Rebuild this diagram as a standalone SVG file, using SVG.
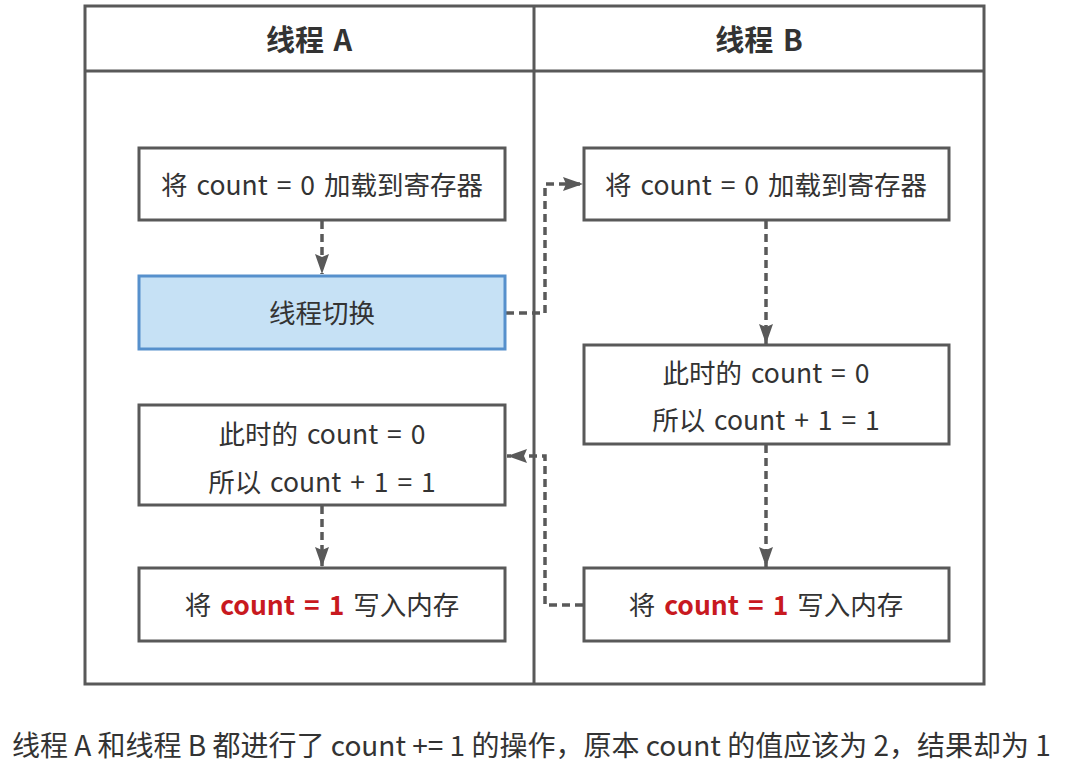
<svg xmlns="http://www.w3.org/2000/svg" width="1068" height="783" viewBox="0 0 1068 783">
<style>
text{font-family:"Noto Sans CJK SC","Microsoft YaHei",sans-serif;fill:#333;font-size:26.5px;text-anchor:middle;dominant-baseline:central;word-spacing:3px}
.hd{font-weight:bold;font-size:29px}
.box{fill:#fff;stroke:#595959;stroke-width:3}
.blue{fill:#c6e1f5;stroke:#5690cc;stroke-width:3}
.frame{fill:none;stroke:#595959;stroke-width:3}
.red{fill:#c8191f;font-weight:bold}
.con{fill:none;stroke:#595959;stroke-width:3.5;stroke-dasharray:8 5}
</style>
<defs>
<marker id="ah" markerWidth="20" markerHeight="14" refX="20" refY="7" orient="auto" markerUnits="userSpaceOnUse">
<path d="M0,0 L20,7 L0,14 L3,7 Z" fill="#595959"/>
</marker>
</defs>
<rect width="1068" height="783" fill="#fff"/>
<g id="frame">
<rect class="frame" x="85" y="6" width="899" height="678"/>
<line class="frame" x1="85" y1="71" x2="984" y2="71"/>
<line class="frame" x1="534" y1="6" x2="534" y2="684"/>
<text class="hd" x="309" y="38">线程 A</text>
<text class="hd" x="759" y="38">线程 B</text>
</g>
<g id="connectors">
<line class="con" x1="322" y1="221" x2="322" y2="274" marker-end="url(#ah)"/>
<polyline class="con" points="506,313 545,313 545,184 583,184" marker-end="url(#ah)"/>
<line class="con" x1="766" y1="221" x2="766" y2="344" marker-end="url(#ah)"/>
<line class="con" x1="766" y1="445" x2="766" y2="567" marker-end="url(#ah)"/>
<polyline class="con" points="583,605 545,605 545,456 507,456" marker-end="url(#ah)"/>
<line class="con" x1="322" y1="506" x2="322" y2="567" marker-end="url(#ah)"/>
</g>
<g id="a1"><rect class="box" x="139" y="148" width="366" height="72"/><text x="322" y="183">将 count = 0 加载到寄存器</text></g>
<g id="a2"><rect class="blue" x="139" y="276" width="366" height="73"/><text x="322" y="311">线程切换</text></g>
<g id="a3"><rect class="box" x="139" y="405" width="366" height="100"/><text x="322" y="432">此时的 count = 0</text><text x="322" y="480">所以 count + 1 = 1</text></g>
<g id="a4"><rect class="box" x="139" y="568" width="366" height="73"/><text x="322" y="603">将 <tspan class="red">count = 1</tspan> 写入内存</text></g>
<g id="b1"><rect class="box" x="584" y="148" width="365" height="72"/><text x="766" y="183">将 count = 0 加载到寄存器</text></g>
<g id="b2"><rect class="box" x="584" y="345" width="365" height="99"/><text x="766" y="371">此时的 count = 0</text><text x="766" y="418">所以 count + 1 = 1</text></g>
<g id="b3"><rect class="box" x="584" y="568" width="365" height="73"/><text x="766" y="603">将 <tspan class="red">count = 1</tspan> 写入内存</text></g>
<g id="caption"><text x="12" y="744" style="text-anchor:start;font-size:28px;word-spacing:0">线程 A 和线程 B 都进行了 count += 1 的操作，原本 count 的值应该为 2，结果却为 1</text></g>
</svg>
